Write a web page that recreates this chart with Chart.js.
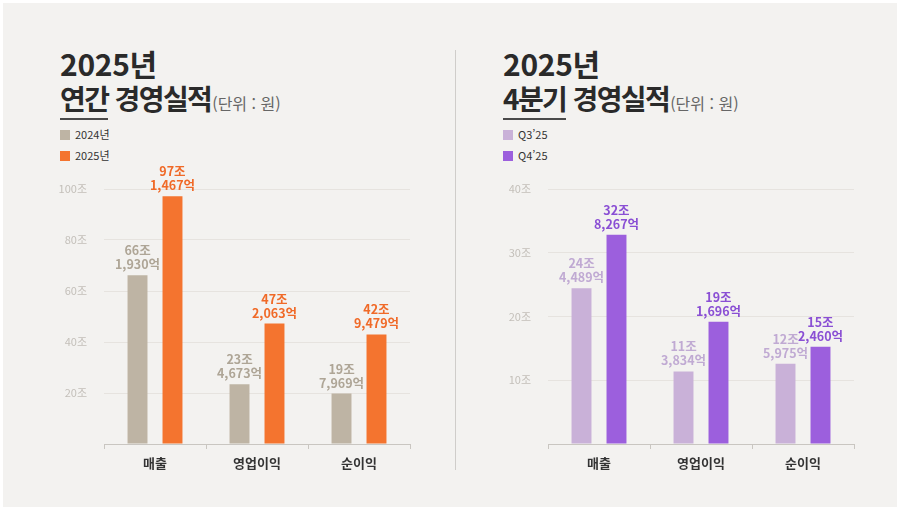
<!DOCTYPE html>
<html lang="ko">
<head>
<meta charset="utf-8">
<title>2025년 경영실적</title>
<script src="https://cdn.jsdelivr.net/npm/chart.js@4.4.1/dist/chart.umd.min.js"></script>
<style>
    html, body {
        margin: 0;
        padding: 0;
        width: 900px;
        height: 510px;
        background: #ffffff;
        font-family: "Noto Sans CJK KR", "Noto Sans", sans-serif;
        overflow: hidden;
    }
    .panel {
        position: absolute;
        left: 3px;
        top: 3px;
        right: 3px;
        bottom: 3px;
        background: #f3f2f0;
    }
    .divider {
        position: absolute;
        left: 455px;
        top: 50px;
        width: 1px;
        height: 420px;
        background: #cfcdca;
    }
    .head {
        position: absolute;
        top: 45px;
        color: #2a2a2a;
    }
    .head .year {
        font-size: 30px;
        font-weight: 700;
        line-height: 36px;
        letter-spacing: -0.3px;
    }
    .head .title {
        font-size: 28px;
        font-weight: 700;
        line-height: 34px;
        letter-spacing: -1.6px;
        white-space: nowrap;
    }
    .head .title u {
        text-decoration: none;
        border-bottom: 2px solid #4a4a4a;
        padding-bottom: 0px;
    }
    .head .unit {
        font-size: 16px;
        font-weight: 400;
        color: #666;
        letter-spacing: 0;
        margin-left: 1px;
    }
    .legend {
        margin-top: 4px;
        font-size: 11px;
        color: #333;
    }
    .legend div {
        height: 21px;
        line-height: 21px;
    }
    .legend span {
        display: inline-block;
        width: 10px;
        height: 10px;
        margin-right: 5px;
        vertical-align: -1px;
    }
    canvas {
        position: absolute;
        top: 160px;
    }
</style>
</head>
<body>
<div class="panel">
</div>
<div class="divider"></div>

<div class="head" style="left:60px">
    <div class="year">2025년</div>
    <div class="title"><u>연간</u> 경영실적<span class="unit">(단위 : 원)</span></div>
    <div class="legend" id="annualLegend"></div>
</div>
<div class="head" style="left:503px">
    <div class="year">2025년</div>
    <div class="title"><u>4분기</u> 경영실적<span class="unit">(단위 : 원)</span></div>
    <div class="legend" id="quarterLegend"></div>
</div>

<canvas id="annualChart" width="390" height="320" style="left:30px"></canvas>
<canvas id="quarterChart" width="390" height="320" style="left:474px"></canvas>

<script>
// 데이터 (단위: 조원)
const categories = ['매출', '영업이익', '순이익'];

const annualSeries = ['2024년', '2025년'];
const annual2024 = [66.193, 23.4673, 19.7969];
const annual2025 = [97.1467, 47.2063, 42.9479];
const annualTicks = [20, 40, 60, 80, 100];

const quarterSeries = ['Q3’25', 'Q4’25'];
const quarterQ3 = [24.4489, 11.3834, 12.5975];
const quarterQ4 = [32.8267, 19.1696, 15.2460];
const quarterTicks = [10, 20, 30, 40];

// 색상
const annualColors = ['#beb4a4', '#f4742f'];
const annualLabelColors = ['#aea596', '#f06a28'];
const quarterColors = ['#c9b1d8', '#9c5fdd'];
const quarterLabelColors = ['#c0aad3', '#8a4fd4'];

let annualChart, quarterChart;

// "66조 1,930억" 형식으로 나누기
function splitWon(v) {
    const jo = Math.floor(v);
    const eok = Math.round((v - jo) * 10000);
    return [jo + '조', eok.toLocaleString('en-US') + '억'];
}

// 막대 위 값 표시
const barValueLabels = {
    id: 'barValueLabels',
    afterDatasetsDraw(chart, args, opts) {
        const ctx = chart.ctx;
        ctx.save();
        ctx.font = '700 12.5px "Noto Sans CJK KR", sans-serif';
        ctx.textAlign = 'center';
        ctx.textBaseline = 'alphabetic';
        chart.data.datasets.forEach((ds, i) => {
            const meta = chart.getDatasetMeta(i);
            ctx.fillStyle = opts.colors[i];
            meta.data.forEach((bar, j) => {
                const lines = splitWon(ds.data[j]);
                ctx.fillText(lines[0], bar.x, bar.y - 20);
                ctx.fillText(lines[1], bar.x, bar.y - 6);
            });
        });
        ctx.restore();
    }
};

// HTML 범례
function buildLegend(id, labels, colors) {
    document.getElementById(id).innerHTML = labels
        .map((l, i) => `<div><span style="background:${colors[i]}"></span>${l}</div>`)
        .join('');
}

function makeChart(canvasId, series, values, colors, labelColors, ticks) {
    const ctx = document.getElementById(canvasId).getContext('2d');
    return new Chart(ctx, {
        type: 'bar',
        data: {
            labels: categories,
            datasets: series.map((s, i) => ({
                label: s,
                data: values[i],
                backgroundColor: colors[i],
                borderWidth: 0,
                barPercentage: 0.57,
                categoryPercentage: 0.686
            }))
        },
        options: {
            responsive: false,
            animation: false,
            layout: {
                padding: { top: 29, right: 10, left: 0, bottom: 0 }
            },
            plugins: {
                legend: { display: false },
                tooltip: { enabled: false },
                barValueLabels: { colors: labelColors }
            },
            scales: {
                x: {
                    offset: true,
                    grid: {
                        offset: true,
                        drawOnChartArea: false,
                        drawTicks: true,
                        tickLength: 5,
                        color: '#c9c6c1'
                    },
                    border: { color: '#c9c6c1', width: 1 },
                    ticks: {
                        padding: 6,
                        color: '#333333',
                        font: { family: '"Noto Sans CJK KR", sans-serif', size: 13, weight: '700' }
                    },
                    afterFit(scale) { scale.height = 36; }
                },
                y: {
                    min: 0,
                    max: ticks[ticks.length - 1],
                    afterBuildTicks(scale) {
                        scale.ticks = [0].concat(ticks).map(v => ({ value: v }));
                    },
                    grid: {
                        drawTicks: false,
                        color: c => c.tick && c.tick.value === 0 ? 'rgba(0,0,0,0)' : '#e6e3df'
                    },
                    border: { display: false },
                    ticks: {
                        padding: 17,
                        color: '#c3bfb9',
                        font: { family: '"Noto Sans CJK KR", sans-serif', size: 11 },
                        callback: v => v === 0 ? '' : v + '조'
                    },
                    afterFit(scale) { scale.width = 74; }
                }
            }
        },
        plugins: [barValueLabels]
    });
}

document.addEventListener('DOMContentLoaded', () => {
    buildLegend('annualLegend', annualSeries, annualColors);
    buildLegend('quarterLegend', quarterSeries, quarterColors);

    annualChart = makeChart('annualChart', annualSeries, [annual2024, annual2025],
        annualColors, annualLabelColors, annualTicks);
    quarterChart = makeChart('quarterChart', quarterSeries, [quarterQ3, quarterQ4],
        quarterColors, quarterLabelColors, quarterTicks);
});
</script>
</body>
</html>
